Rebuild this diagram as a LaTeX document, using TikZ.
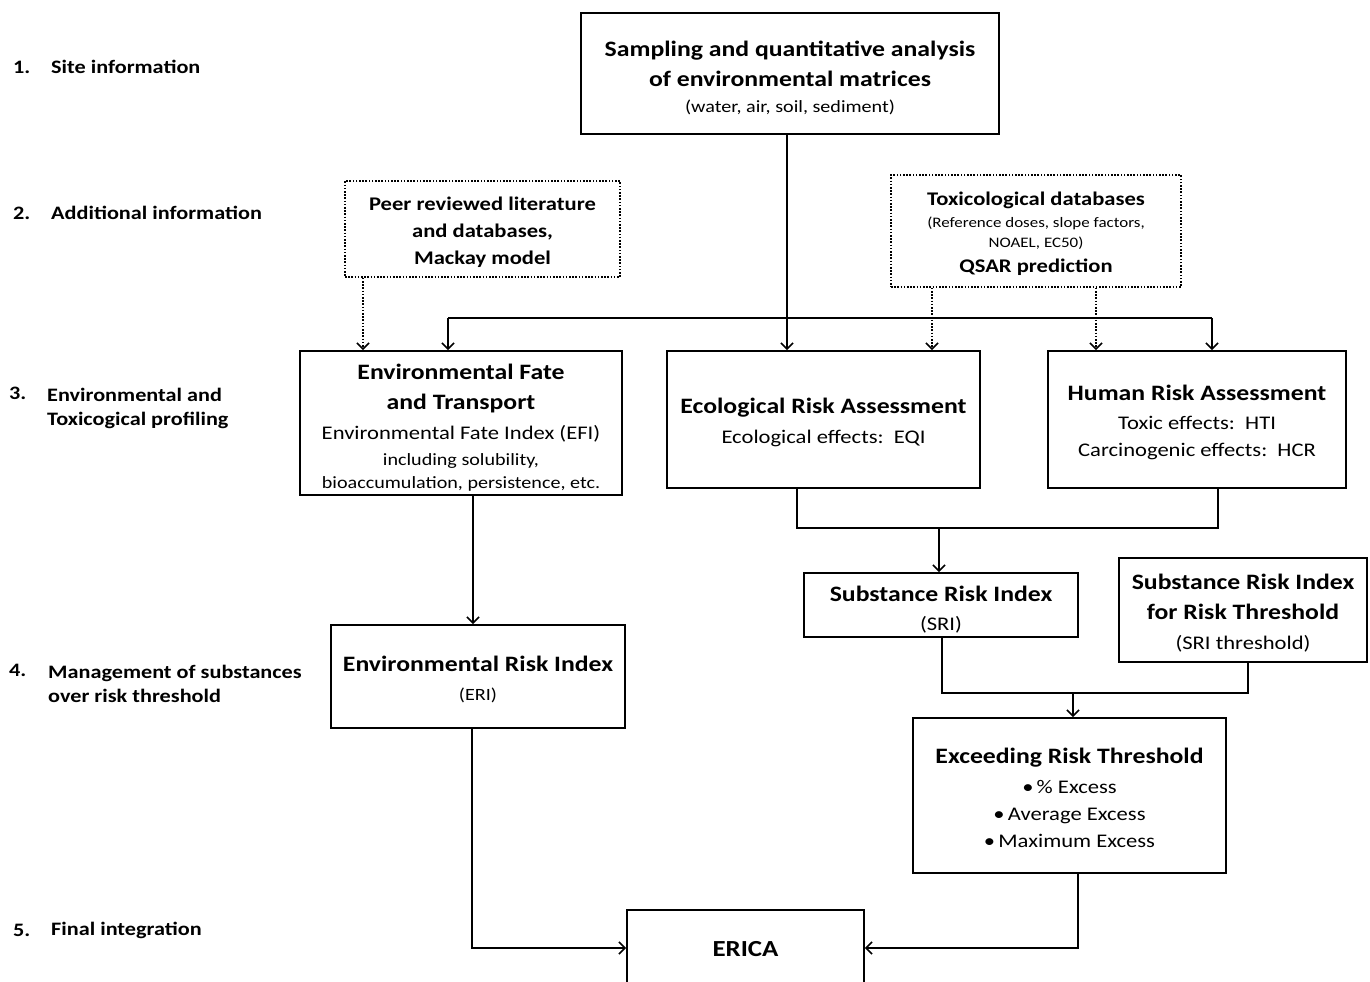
\documentclass[tikz,border=0pt]{standalone}
\usepackage{fontspec}
\setmainfont[FakeStretch=1.17]{Carlito}
\usetikzlibrary{arrows.meta}
\newcommand\Tbig{\fontsize{22}{30}\selectfont\bfseries}
\newcommand\Tmed{\fontsize{19.3}{27}\selectfont\bfseries}
\newcommand\Treg{\fontsize{19.3}{29}\selectfont\mdseries}
\newcommand\Tsm{\fontsize{17.2}{26}\selectfont\mdseries}
\newcommand\Ttiny{\fontsize{14.5}{21}\selectfont\mdseries}
\begin{document}
\begin{tikzpicture}[x=1pt,y=-1pt,
  box/.style={draw, line width=1.8pt, inner sep=0pt},
  dbox/.style={draw, line width=1.6pt, dash pattern=on 1.6pt off 1.6pt, inner sep=0pt},
  txt/.style={align=center, inner sep=0pt},
  line/.style={line width=1.8pt},
  conn/.style={line width=1.8pt, -{Straight Barb[length=6pt,width=12pt,line width=1.6pt]}},
  dconn/.style={line width=1.6pt, dash pattern=on 1.6pt off 1.6pt, -{Straight Barb[length=6pt,width=12pt,line width=1.6pt]}},
  lab/.style={anchor=west, inner sep=0pt, font=\fontsize{19}{24}\selectfont\bfseries, align=left}]
\useasboundingbox (0,0) rectangle (1370,982);
\clip (0,0) rectangle (1370,982);
\fill[white] (0,0) rectangle (1370,982);

% left labels
\node[lab] (n1) at (13,67) {1.};
\node[lab] (l1) at (51,67) {Site information};
\node[lab] (n2) at (13,213) {2.};
\node[lab] (l2) at (51,213) {Additional information};
\node[lab] (n3) at (9,393) {3.};
\node[lab, anchor=north west] (l3) at (47,387.5) {Environmental and\\Toxicogical profiling};
\node[lab] (n4) at (9,670) {4.};
\node[lab, anchor=north west] (l4) at (48,664.5) {Management of substances\\over risk threshold};
\node[lab] (n5) at (13,930) {5.};
\node[lab] (l5) at (51,930) {Final integration};

% boxes
\node[box, minimum width=418, minimum height=121] (top) at (790,73.5) {};
\node[txt, font=\Tbig] (top-t) at ([yshift=-4pt]top.center)
  {Sampling and quantitative analysis\\of environmental matrices\\[-4pt]{\Tsm (water, air, soil, sediment)}};

\node[dbox, minimum width=275, minimum height=96] (peer) at (482.5,229) {};
\node[txt, font=\Tmed] (peer-t) at ([yshift=-3pt]peer.center)
  {Peer reviewed literature\\and databases,\\Mackay model};

\node[dbox, minimum width=290, minimum height=112] (tox) at (1036,231) {};
\node[txt, font=\fontsize{19.3}{22}\selectfont\bfseries] (tox-t) at ([yshift=-3pt]tox.center)
  {Toxicological databases\\{\Ttiny (Reference doses, slope factors,}\\[-2pt]{\Ttiny NOAEL, EC50)}\\[3pt]QSAR prediction};

\node[box, minimum width=322, minimum height=144] (eft) at (461,423) {};
\node[txt, font=\Tbig] (eft-t) at ([yshift=-5pt]eft.center)
  {Environmental Fate\\and Transport\\{\Treg Environmental Fate Index (EFI)}\\[-4pt]{\Tsm including solubility,}\\[-7pt]{\Tsm bioaccumulation, persistence, etc.}};

\node[box, minimum width=313, minimum height=137] (era) at (823.5,419.5) {};
\node[txt, font=\Tbig] (era-t) at ([yshift=-3pt]era.center)
  {Ecological Risk Assessment\\{\Treg Ecological effects:\ \ EQI}};

\node[box, minimum width=298, minimum height=137] (hra) at (1197,419.5) {};
\node[txt, font=\Tbig] (hra-t) at ([yshift=-3pt]hra.center)
  {Human Risk Assessment\\[-1pt]{\Treg Toxic effects:\ \ HTI}\\[-3pt]{\Treg Carcinogenic effects:\ \ HCR}};

\node[box, minimum width=274, minimum height=64] (sri) at (941,605) {};
\node[txt, font=\Tbig] (sri-t) at ([yshift=-4.5pt]sri.center)
  {Substance Risk Index\\[-1pt]{\Treg (SRI)}};

\node[box, minimum width=248, minimum height=104] (srit) at (1243,610) {};
\node[txt, font=\Tbig] (srit-t) at ([yshift=-3pt]srit.center)
  {Substance Risk Index\\for Risk Threshold\\{\Treg (SRI threshold)}};

\node[box, minimum width=294, minimum height=103] (eri) at (478,676.5) {};
\node[txt, font=\Tbig] (eri-t) at ([yshift=-3pt]eri.center)
  {Environmental Risk Index\\[-1pt]{\Tsm (ERI)}};

\node[box, minimum width=313, minimum height=155] (ert) at (1069.5,795.5) {};
\node[txt, font=\Tbig] (ert-t) at ([yshift=-2.5pt]ert.center)
  {Exceeding Risk Threshold\\{\Treg \textbullet\,\% Excess}\\[-3pt]{\Treg \textbullet\,Average Excess}\\[-3pt]{\Treg \textbullet\,Maximum Excess}};

\node[box, minimum width=237, minimum height=76] (erica) at (745.5,948) {};
\node[txt, font=\fontsize{23}{30}\selectfont\bfseries] (erica-t) at ([yshift=-1pt]erica.center) {ERICA};

% helper coordinates
\coordinate (xA) at (787,318);
\coordinate (xL) at (448,318);
\coordinate (xR) at (1212,318);
\coordinate (d1) at (363,0);
\coordinate (d2) at (932,0);
\coordinate (d3) at (1096,0);
\coordinate (e1) at (473,0);
\coordinate (jE1) at (797,528);
\coordinate (jE2) at (1218,528);
\coordinate (jE) at (939,528);
\coordinate (jS1) at (942,693);
\coordinate (jS2) at (1248,693);
\coordinate (jS) at (1073,693);
\coordinate (jR1) at (472,948);
\coordinate (jR2) at (1078,948);

% connectors
\draw[conn] (top.south -| xA) -- (era.north -| xA);
\draw[line] (xL) -- (xR);
\draw[conn] (xL) -- (eft.north -| xL);
\draw[conn] (xR) -- (hra.north -| xR);
\draw[dconn] (peer.south -| d1) -- (eft.north -| d1);
\draw[dconn] (tox.south -| d2) -- (era.north -| d2);
\draw[dconn] (tox.south -| d3) -- (hra.north -| d3);
\draw[conn] (eft.south -| e1) -- (eri.north -| e1);
\draw[line] (era.south -| jE1) -- (jE1) -- (jE2) -- (hra.south -| jE2);
\draw[conn] (jE) -- (sri.north -| jE);
\draw[line] (sri.south -| jS1) -- (jS1) -- (jS2) -- (srit.south -| jS2);
\draw[conn] (jS) -- (ert.north -| jS);
\draw[conn] (eri.south -| jR1) -- (jR1) -- (erica.west);
\draw[conn] (ert.south -| jR2) -- (jR2) -- (erica.east);
\end{tikzpicture}
\end{document}
